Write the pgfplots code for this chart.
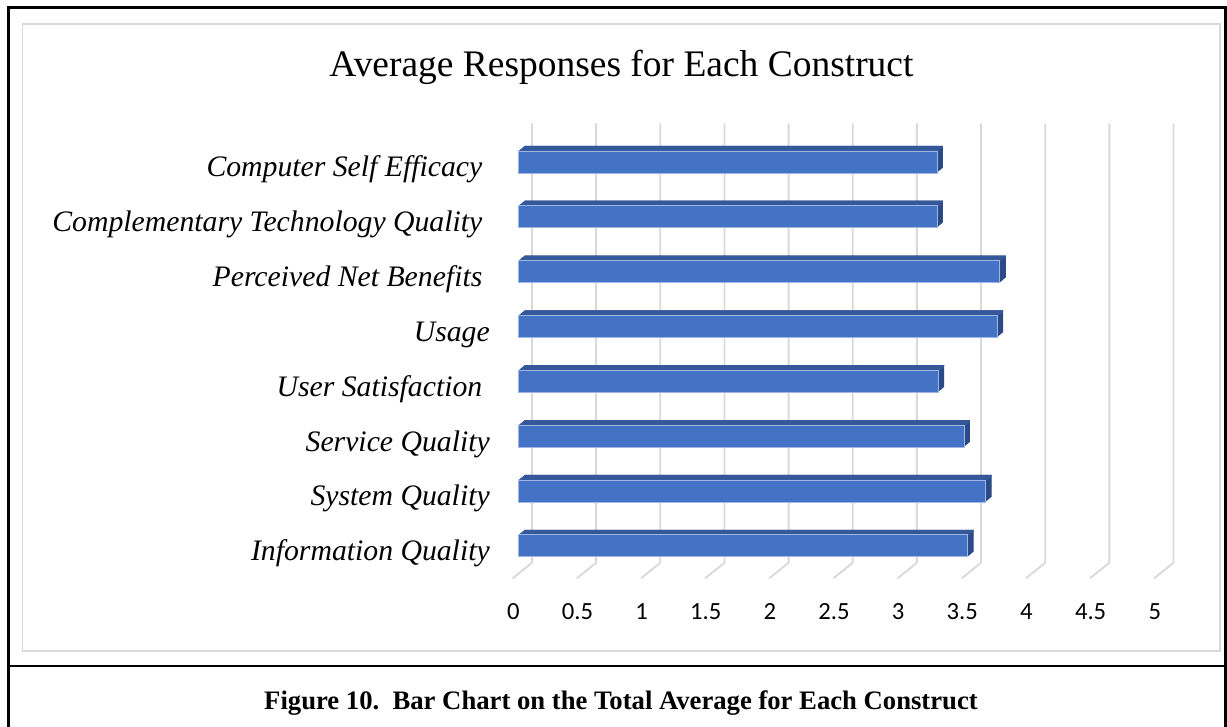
\documentclass[border=0pt]{standalone}
\usepackage{pgfplots}
\pgfplotsset{compat=1.18}
\usepackage{pgfplotstable}
\usepackage{fontspec}
\setmainfont{Liberation Serif}
\newfontfamily\labelfont{Liberation Serif Italic}
\newfontfamily\tickfont{Carlito}
\newfontfamily\capfont{Liberation Serif Bold}

\definecolor{barfront}{HTML}{4472C4}
\definecolor{bartop}{HTML}{35589A}
\definecolor{barside}{HTML}{2B4A86}
\definecolor{baredge}{HTML}{9EB6E2}
\definecolor{gridgray}{HTML}{D9D9D9}

% average response per construct (pos 0 = bottom row)
\pgfplotstableread[col sep=comma]{
pos,value
0,3.50
1,3.64
2,3.47
3,3.27
4,3.73
5,3.75
6,3.26
7,3.26
}\constructs

\newcommand{\trail}{\hspace*{0.25em}}

\begin{document}
\begin{tikzpicture}
% page layout in pixel units, origin placed at the axis corner
\begin{scope}[x=0.75pt,y=-0.75pt,shift={(-389.025pt,429.9pt)}]
  \useasboundingbox (0,0) rectangle (1227,726);
  % figure frame
  \draw[line width=1.7pt] (8.5,740) -- (8.5,7.5) -- (1225.5,7.5) -- (1225.5,740);
  \draw[line width=1.7pt] (8.5,666) -- (1225.5,666);
  % chart area
  \draw[gridgray, line width=1pt] (22.5,24) rectangle (1220,651);
  \node[anchor=base, inner sep=0pt] at (621.5,76.7)
    {\fontsize{28.1}{30}\selectfont Average Responses for Each Construct};
  \node[anchor=base, inner sep=0pt] at (621,709)
    {\capfont\fontsize{20}{22}\selectfont Figure 10.\ \ Bar Chart on the Total Average for Each Construct};
  % back wall and floor grid lines
  \foreach \v in {0,0.5,...,5.01} {
    \draw[gridgray, line width=1.4pt, line join=round]
      ({532+128.3*\v},123.5) -- ({532+128.3*\v},562.7) -- ({512.7+128.3*\v},578.3);
  }
\end{scope}

\begin{axis}[
  scale only axis,
  width=481.1pt, height=329.1pt,
  xmin=0, xmax=5, ymin=-0.5, ymax=7.5,
  clip=false,
  axis x line*=bottom, axis y line*=left,
  axis line style={draw=none},
  major tick length=0pt,
  xtick={0,0.5,...,5},
  xticklabels={0,0.5,1,1.5,2,2.5,3,3.5,4,4.5,5},
  xticklabel style={font=\tickfont\fontsize{18.5}{18.5}\selectfont,
    anchor=base, inner sep=0pt, xshift=-4.05pt, yshift=-34.6pt},
  ytick={0,...,7},
  yticklabels={Information Quality, System Quality, Service Quality,
    User Satisfaction\trail, Usage, Perceived Net Benefits\trail,
    Complementary Technology Quality\trail, Computer Self Efficacy\trail},
  yticklabel style={font=\labelfont\fontsize{22.3}{24}\selectfont,
    anchor=base east, inner sep=0pt, xshift=-21.5pt, yshift=-11.2pt},
]
% depth of the bars: right side faces
\pgfplotsinvokeforeach{1,...,12}{
  \addplot[xbar, bar width=16.5pt, fill=barside, draw=none,
    xshift={#1*0.375pt}, yshift={#1*0.3125pt}]
    table[x=value, y=pos] {\constructs};
}
% top faces
\pgfplotsinvokeforeach{0,...,12}{
  \addplot[xbar, bar width=1.2pt, fill=bartop, draw=none,
    xshift={#1*0.375pt}, yshift={7.65pt+#1*0.3125pt}]
    table[x=value, y=pos] {\constructs};
}
% front faces
\addplot[xbar, bar width=16.5pt, fill=barfront, draw=baredge, line width=0.5pt]
  table[x=value, y=pos] {\constructs};
\end{axis}
\end{tikzpicture}
\end{document}
